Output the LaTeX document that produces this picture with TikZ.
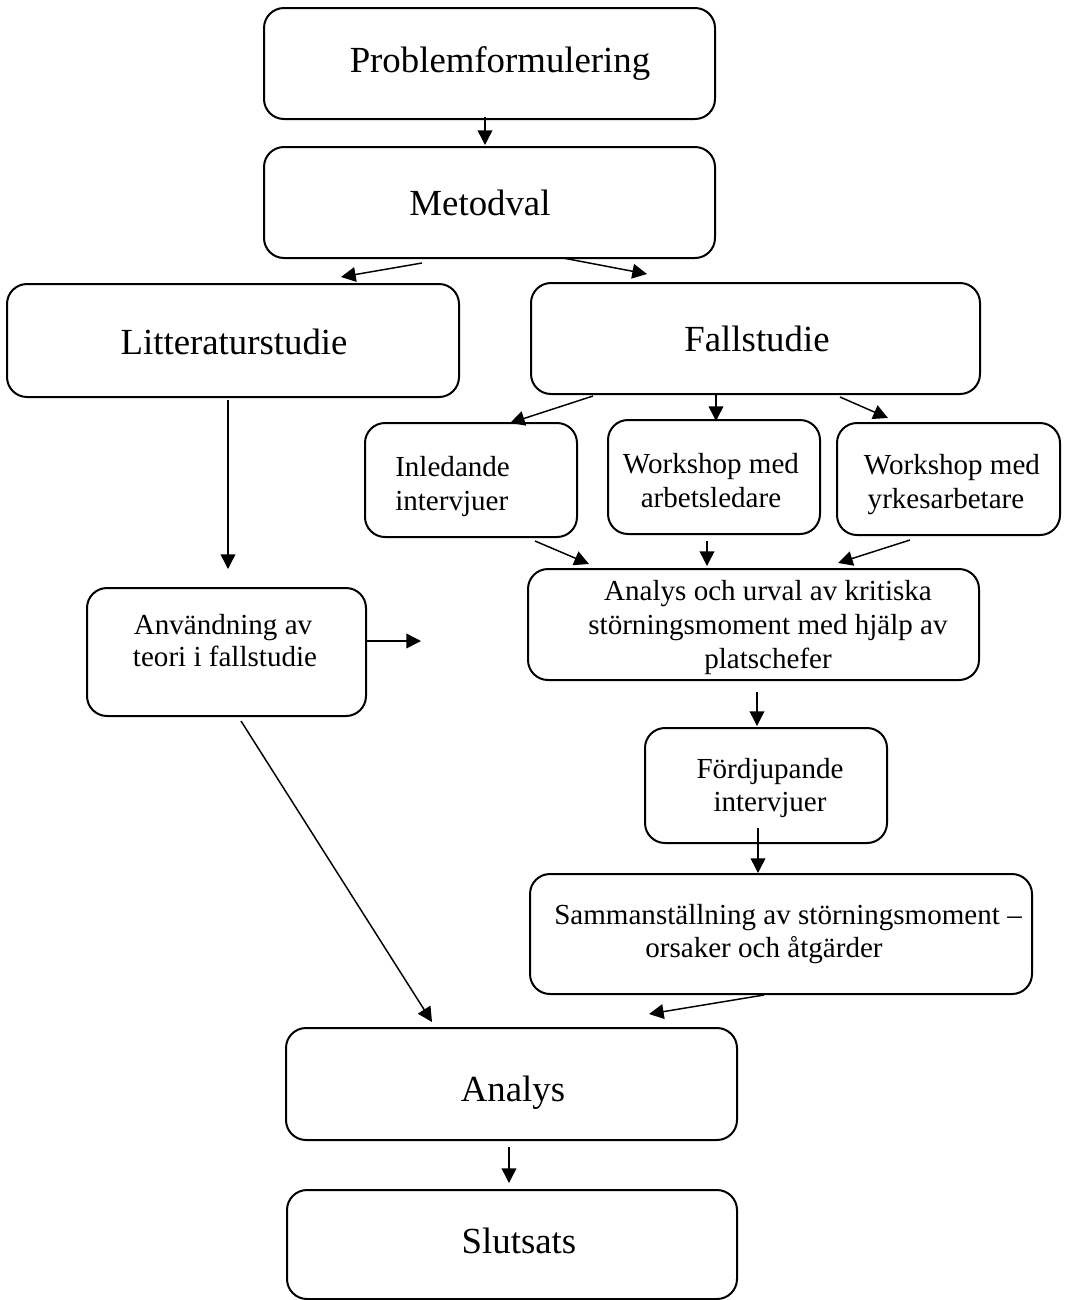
\documentclass[tikz,border=0pt]{standalone}
\usepackage{fontspec}
\setmainfont{Liberation Serif}
\usetikzlibrary{arrows.meta}

% box from its corners (x1,y1) to (x2,y2), in pixel units
\newcommand\mkbox[5]{%
  \node[box, minimum width={(#4-#2)*0.75pt}, minimum height={(#5-#3)*0.75pt}]
    (#1) at ({(#2+#4)/2},{(#3+#5)/2}) {};}

\begin{document}
\begin{tikzpicture}[x=0.75pt,y=-0.75pt,
  box/.style={draw, line width=1.5pt, rounded corners=15pt, inner sep=0pt},
  big/.style={font=\fontsize{27.6}{32}\selectfont, anchor=base, inner sep=0pt},
  small/.style={font=\fontsize{21.8}{25}\selectfont, anchor=base, inner sep=0pt},
  link/.style={line width=1.1pt, -{Triangle[length=11pt,width=11pt]}}
]
\useasboundingbox (0,0) rectangle (1069,1300);

% boxes
\mkbox{problem}{264}{8}{715}{119}
\mkbox{metod}{264}{147}{715}{258}
\mkbox{litt}{7}{284}{459}{397}
\mkbox{fall}{531}{283}{980}{394}
\mkbox{inled}{365}{423}{577}{537}
\mkbox{wsarb}{608}{420}{820}{534}
\mkbox{wsyrk}{837}{423}{1060}{535}
\mkbox{urval}{528}{569}{979}{680}
\mkbox{teori}{87}{588}{366}{716}
\mkbox{fordj}{645}{728}{887}{843}
\mkbox{samman}{530}{874}{1032}{994}
\mkbox{analys}{286}{1028}{737}{1140}
\mkbox{slut}{287}{1190}{737}{1299}

% labels
\node[big] (tproblem) at (500,72) {Problemformulering};
\node[big] (tmetod) at (480,215) {Metodval};
\node[big] (tlitt) at (234,354) {Litteraturstudie};
\node[big] (tfall) at (757,351) {Fallstudie};
\node[small, anchor=base west] (tinled1) at (395,476) {Inledande};
\node[small, anchor=base west] (tinled2) at (395,510) {intervjuer};
\node[small] (twsarb1) at (711,473) {Workshop med};
\node[small] (twsarb2) at (711,507) {arbetsledare};
\node[small] (twsyrk1) at (952,474) {Workshop med};
\node[small] (twsyrk2) at (946,508) {yrkesarbetare};
\node[small] (turval1) at (768,600) {Analys och urval av kritiska};
\node[small] (turval2) at (768,634) {störningsmoment med hjälp av};
\node[small] (turval3) at (768,668) {platschefer};
\node[small] (tteori1) at (223,634) {Användning av};
\node[small] (tteori2) at (225,666) {teori i fallstudie};
\node[small] (tfordj1) at (770,778) {Fördjupande};
\node[small] (tfordj2) at (770,811) {intervjuer};
\node[small] (tsamman1) at (788,924) {Sammanställning av störningsmoment –};
\node[small] (tsamman2) at (764,957) {orsaker och åtgärder};
\node[big] (tanalys) at (513,1101) {Analys};
\node[big] (tslut) at (519,1253) {Slutsats};

% arrow end points
\coordinate (a1s) at (485,117);  \coordinate (a1e) at (485,145);
\coordinate (a2s) at (422,263);  \coordinate (a2e) at (341,277);
\coordinate (a3s) at (563,258);  \coordinate (a3e) at (647,274);
\coordinate (a4s) at (228,400);  \coordinate (a4e) at (228,569);
\coordinate (a5s) at (593,396);  \coordinate (a5e) at (510,423);
\coordinate (a6s) at (716,394);  \coordinate (a6e) at (716,421);
\coordinate (a7s) at (840,397);  \coordinate (a7e) at (888,418);
\coordinate (a8s) at (535,541);  \coordinate (a8e) at (589,564);
\coordinate (a9s) at (707,541);  \coordinate (a9e) at (707,566);
\coordinate (a10s) at (910,540); \coordinate (a10e) at (838,563);
\coordinate (a11s) at (366,641); \coordinate (a11e) at (421,641);
\coordinate (a12s) at (757,692); \coordinate (a12e) at (757,726);
\coordinate (a13s) at (758,828); \coordinate (a13e) at (758,873);
\coordinate (a14s) at (764,995); \coordinate (a14e) at (649,1014);
\coordinate (a15s) at (241,721); \coordinate (a15e) at (432,1022);
\coordinate (a16s) at (509,1147); \coordinate (a16e) at (509,1183);

% connectors
\foreach \i in {1,...,16} \draw[link] (a\i s) -- (a\i e);
\end{tikzpicture}
\end{document}
